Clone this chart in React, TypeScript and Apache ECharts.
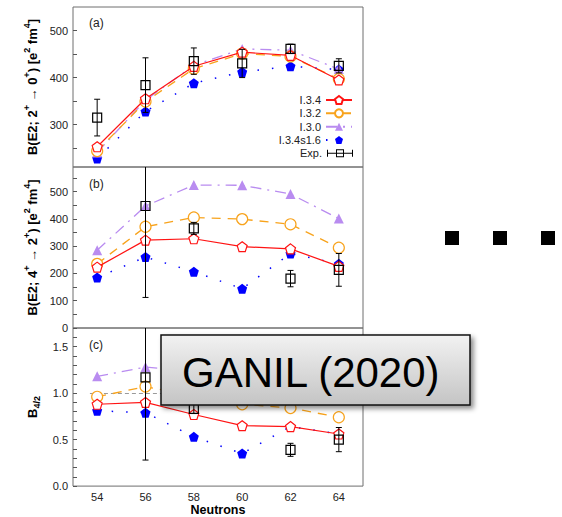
import React, { useEffect, useRef } from "react";
import * as echarts from "echarts";

const FONT = "'Liberation Sans', Arial, Helvetica, sans-serif";

// x categories (neutron number)
const neutrons = [54, 56, 58, 60, 62, 64];

// Panel (a): B(E2; 2+ -> 0+)
const aI34 = [253, 355, 424, 454, 447, 395];
const aI32 = [244, 349, 419, 451, 445, 397];
const aI30 = [241, 352, 426, 461, 458, 418];
const aI34s16 = [228, 328, 388, 412, 424, 417];
const aExp = [315, 384, 435, 430, 461, 425];
const aExpErr = [39, 58, 28, 30, 10, 15];

// Panel (b): B(E2; 4+ -> 2+)
const bI34 = [223, 322, 327, 298, 290, 226];
const bI32 = [235, 371, 405, 399, 380, 294];
const bI30 = [285, 447, 524, 523, 491, 401];
const bI34s16 = [185, 260, 206, 144, 273, 235];
const bExp = [null, 447, 365, null, 181, 213];
const bExpErr = [null, 335, 22, null, 30, 60];

// Panel (c): B4/2
const cI34 = [0.88, 0.9, 0.77, 0.65, 0.64, 0.56];
const cI32 = [0.96, 1.07, 0.97, 0.88, 0.84, 0.74];
const cI30 = [1.18, 1.28, 1.23, 1.13, 1.07, 0.95];
const cI34s16 = [0.81, 0.79, 0.53, 0.35, 0.64, 0.56];
const cExp = [null, 1.17, 0.83, null, 0.39, 0.5];
const cExpErr = [null, 0.89, 0.05, null, 0.07, 0.13];

const seriesNames = ["I.3.4", "I.3.2", "I.3.0", "I.3.4s1.6", "Exp."];
const xLabels = [54, 56, 58, 60, 62, 64];
const aLabels = [300, 400, 500];
const aTicks = [250, 300, 350, 400, 450, 500];
const bLabels = [0, 100, 200, 300, 400, 500];
const bTicks = [0, 50, 100, 150, 200, 250, 300, 350, 400, 450, 500, 550];
const cLabels = [0, 0.5, 1.0, 1.5];
const cTicks = [0, 0.1, 0.2, 0.3, 0.4, 0.5, 0.6, 0.7, 0.8, 0.9, 1.0, 1.1, 1.2, 1.3, 1.4, 1.5, 1.6];

const RED = "#ff1414";
const ORANGE = "#f8a31c";
const PURPLE = "#b98cf0";
const BLUE = "#0000ff";

const PENTAGON = "path://M0,-10 L9.51,-3.09 L5.88,8.09 L-5.88,8.09 L-9.51,-3.09 Z";
const EXP_ICON =
  "path://M0,4.5 H26 V5.5 H0 Z M0,1.5 H1 V8.5 H0 Z M25,1.5 H26 V8.5 H25 Z M9,1 H17 V9 H9 Z M10,2 V8 H16 V2 Z";

function pairs(vals: (number | null)[]) {
  return neutrons.map((n, i) => [n, vals[i]]);
}

function lineSeries(k: number, sets: number[][]) {
  const styles = [
    { name: seriesNames[0], symbol: PENTAGON, size: 10, item: { color: "#fff", borderColor: RED, borderWidth: 1.2 }, line: { color: RED, width: 1.2, type: "solid" } },
    { name: seriesNames[1], symbol: "circle", size: 11, item: { color: "#fff", borderColor: ORANGE, borderWidth: 1.2 }, line: { color: ORANGE, width: 1.3, type: [9, 7] } },
    { name: seriesNames[2], symbol: "triangle", size: 10, item: { color: PURPLE }, line: { color: PURPLE, width: 1.3, type: [11, 6, 2, 6] } },
    { name: seriesNames[3], symbol: PENTAGON, size: 10, item: { color: BLUE }, line: { color: BLUE, width: 1.5, type: [1.5, 13] } },
  ];
  return styles.map((s, i) => ({
    type: "line",
    name: s.name,
    xAxisIndex: k,
    yAxisIndex: k,
    data: pairs(sets[i]),
    symbol: s.symbol,
    symbolSize: s.size,
    showAllSymbol: true,
    itemStyle: s.item,
    lineStyle: s.line,
    clip: true,
    z: 3 + (3 - i) * 0.1,
    emphasis: { disabled: true },
  }));
}

function expSeries(k: number, vals: (number | null)[], errs: (number | null)[]) {
  const data = neutrons
    .map((n, i) => (vals[i] == null ? null : [n, vals[i], errs[i]]))
    .filter((d) => d !== null);
  return {
    type: "custom",
    name: "Exp.",
    xAxisIndex: k,
    yAxisIndex: k,
    clip: true,
    z: 6,
    itemStyle: { color: "#000" },
    encode: { x: 0, y: 1 },
    data,
    renderItem: (params: any, api: any) => {
      const x = api.value(0);
      const y = api.value(1);
      const e = api.value(2);
      const c = api.coord([x, y]);
      const t = api.coord([x, y + e]);
      const b = api.coord([x, y - e]);
      const cap = 3;
      const st = { stroke: "#000", lineWidth: 1, fill: null };
      return {
        type: "group",
        children: [
          { type: "line", shape: { x1: c[0], y1: t[1], x2: c[0], y2: b[1] }, style: st },
          { type: "line", shape: { x1: c[0] - cap, y1: t[1], x2: c[0] + cap, y2: t[1] }, style: st },
          { type: "line", shape: { x1: c[0] - cap, y1: b[1], x2: c[0] + cap, y2: b[1] }, style: st },
          { type: "rect", shape: { x: c[0] - 4.5, y: c[1] - 4.5, width: 9, height: 9 }, style: { stroke: "#000", lineWidth: 1.2, fill: null } },
        ],
      };
    },
  };
}

const supRich = {
  n: { fontSize: 13, fontWeight: "bold", fontFamily: FONT, color: "#000", lineHeight: 16, verticalAlign: "bottom" },
  s: { fontSize: 9, fontWeight: "bold", fontFamily: FONT, color: "#000", lineHeight: 16, verticalAlign: "top" },
  b: { fontSize: 9, fontWeight: "bold", fontFamily: FONT, color: "#000", lineHeight: 16, verticalAlign: "bottom", padding: [0, 0, -3, 0] },
};

export default function App() {
  const ref = useRef<HTMLDivElement>(null);
  useEffect(() => {
    document.body.style.margin = "0";
    const chart = echarts.init(ref.current!, null, { renderer: "svg" });
    const grids = [
      { left: 73, width: 290, top: 7, height: 160 },
      { left: 73, width: 290, top: 167, height: 161 },
      { left: 73, width: 290, top: 328, height: 161 },
    ].map((g) => ({ ...g, show: true, borderColor: "#6e6e6e", borderWidth: 1, backgroundColor: "transparent" }));

    const xAxes = [0, 1, 2].map((k) => ({
      type: "value",
      gridIndex: k,
      min: 53,
      max: 65,
      axisLine: { show: false },
      splitLine: { show: false },
      axisTick: { show: false },
      axisLabel: {
        show: k === 2,
        customValues: xLabels,
        fontSize: 11,
        color: "#222",
        fontFamily: FONT,
        margin: 5,
      },
      name: k === 2 ? "Neutrons" : "",
      nameLocation: "middle",
      nameGap: 14,
      nameTextStyle: { fontSize: 12.5, fontWeight: "bold", color: "#000", fontFamily: FONT },
    }));

    const yCfg = [
      { min: 210, max: 550, labels: aLabels, ticks: aTicks, name: "{n|B(E2; 2}{s|+}{n| → 0}{s|+}{n|) [e}{s|2}{n| fm}{s|4}{n|]}", fmt: (v: number) => String(v) },
      { min: 0, max: 590, labels: bLabels, ticks: bTicks, name: "{n|B(E2; 4}{s|+}{n| → 2}{s|+}{n|) [e}{s|2}{n| fm}{s|4}{n|]}", fmt: (v: number) => String(v) },
      { min: 0, max: 1.7, labels: cLabels, ticks: cTicks, name: "{n|B}{b|4/2}", fmt: (v: number) => v.toFixed(1) },
    ];
    const yAxes = yCfg.map((c, k) => ({
      type: "value",
      gridIndex: k,
      min: c.min,
      max: c.max,
      axisLine: { show: false },
      splitLine: { show: false },
      axisTick: { show: true, inside: true, length: 4, customValues: c.ticks, lineStyle: { color: "#555" } },
      axisLabel: { customValues: c.labels, formatter: c.fmt, fontSize: 11, color: "#222", fontFamily: FONT, margin: 5 },
      name: c.name,
      nameLocation: "middle",
      nameRotate: 90,
      nameGap: k === 2 ? 27 : 26,
      nameTextStyle: { rich: supRich },
    }));

    const series: any[] = [
      ...lineSeries(0, [aI34, aI32, aI30, aI34s16]),
      expSeries(0, aExp, aExpErr),
      ...lineSeries(1, [bI34, bI32, bI30, bI34s16]),
      expSeries(1, bExp, bExpErr),
      ...lineSeries(2, [cI34, cI32, cI30, cI34s16]),
      expSeries(2, cExp, cExpErr),
    ];
    // reference dashed line at B4/2 = 1 in panel (c)
    const cRed = series[10];
    cRed.markLine = {
      silent: true,
      symbol: "none",
      z: 1,
      label: { show: false },
      lineStyle: { color: "#9a9a9a", type: [4, 3], width: 1 },
      data: [[{ coord: [53.7, 1] }, { coord: [65, 1] }]],
    };

    const legends = seriesNames.map((name, i) => ({
      data: [name === "Exp." ? { name, icon: EXP_ICON } : name],
      orient: "vertical",
      align: "right",
      right: 209,
      top: 93 + i * 13.33,
      itemWidth: 26,
      itemHeight: 10,
      itemGap: 0,
      padding: 0,
      selectedMode: false,
      textStyle: { fontSize: 11, color: "#222", fontFamily: FONT, lineHeight: 14 },
    }));

    const graphic: any[] = [
      { type: "text", left: 89, top: 17, style: { text: "(a)", fontSize: 12, fontFamily: FONT, fill: "#222" } },
      { type: "text", left: 89, top: 178, style: { text: "(b)", fontSize: 12, fontFamily: FONT, fill: "#222" } },
      { type: "text", left: 89, top: 339, style: { text: "(c)", fontSize: 12, fontFamily: FONT, fill: "#222" } },
      {
        type: "rect",
        shape: { x: 161, y: 335, width: 309, height: 70 },
        z: 100,
        style: {
          fill: new echarts.graphic.LinearGradient(0, 0, 0, 1, [
            { offset: 0, color: "#f2f2f2" },
            { offset: 1, color: "#c4c4c4" },
          ]),
          stroke: "#111",
          lineWidth: 1.5,
          shadowBlur: 5,
          shadowOffsetX: 3,
          shadowOffsetY: 3,
          shadowColor: "rgba(0,0,0,0.45)",
        },
      },
      {
        type: "text",
        z: 101,
        x: 182,
        y: 372,
        style: { text: "GANIL (2020)", fontSize: 42, fontFamily: FONT, fill: "#000", verticalAlign: "middle", align: "left" },
      },
      { type: "rect", shape: { x: 445, y: 231, width: 14, height: 14 }, style: { fill: "#000" } },
      { type: "rect", shape: { x: 493, y: 231, width: 14, height: 14 }, style: { fill: "#000" } },
      { type: "rect", shape: { x: 541, y: 231, width: 14, height: 14 }, style: { fill: "#000" } },
    ];

    chart.setOption({
      animation: false,
      textStyle: { fontFamily: FONT },
      grid: grids,
      xAxis: xAxes,
      yAxis: yAxes,
      legend: legends,
      series,
      graphic,
    });
    return () => chart.dispose();
  }, []);
  return <div ref={ref} style={{ width: 562, height: 517 }} />;
}
